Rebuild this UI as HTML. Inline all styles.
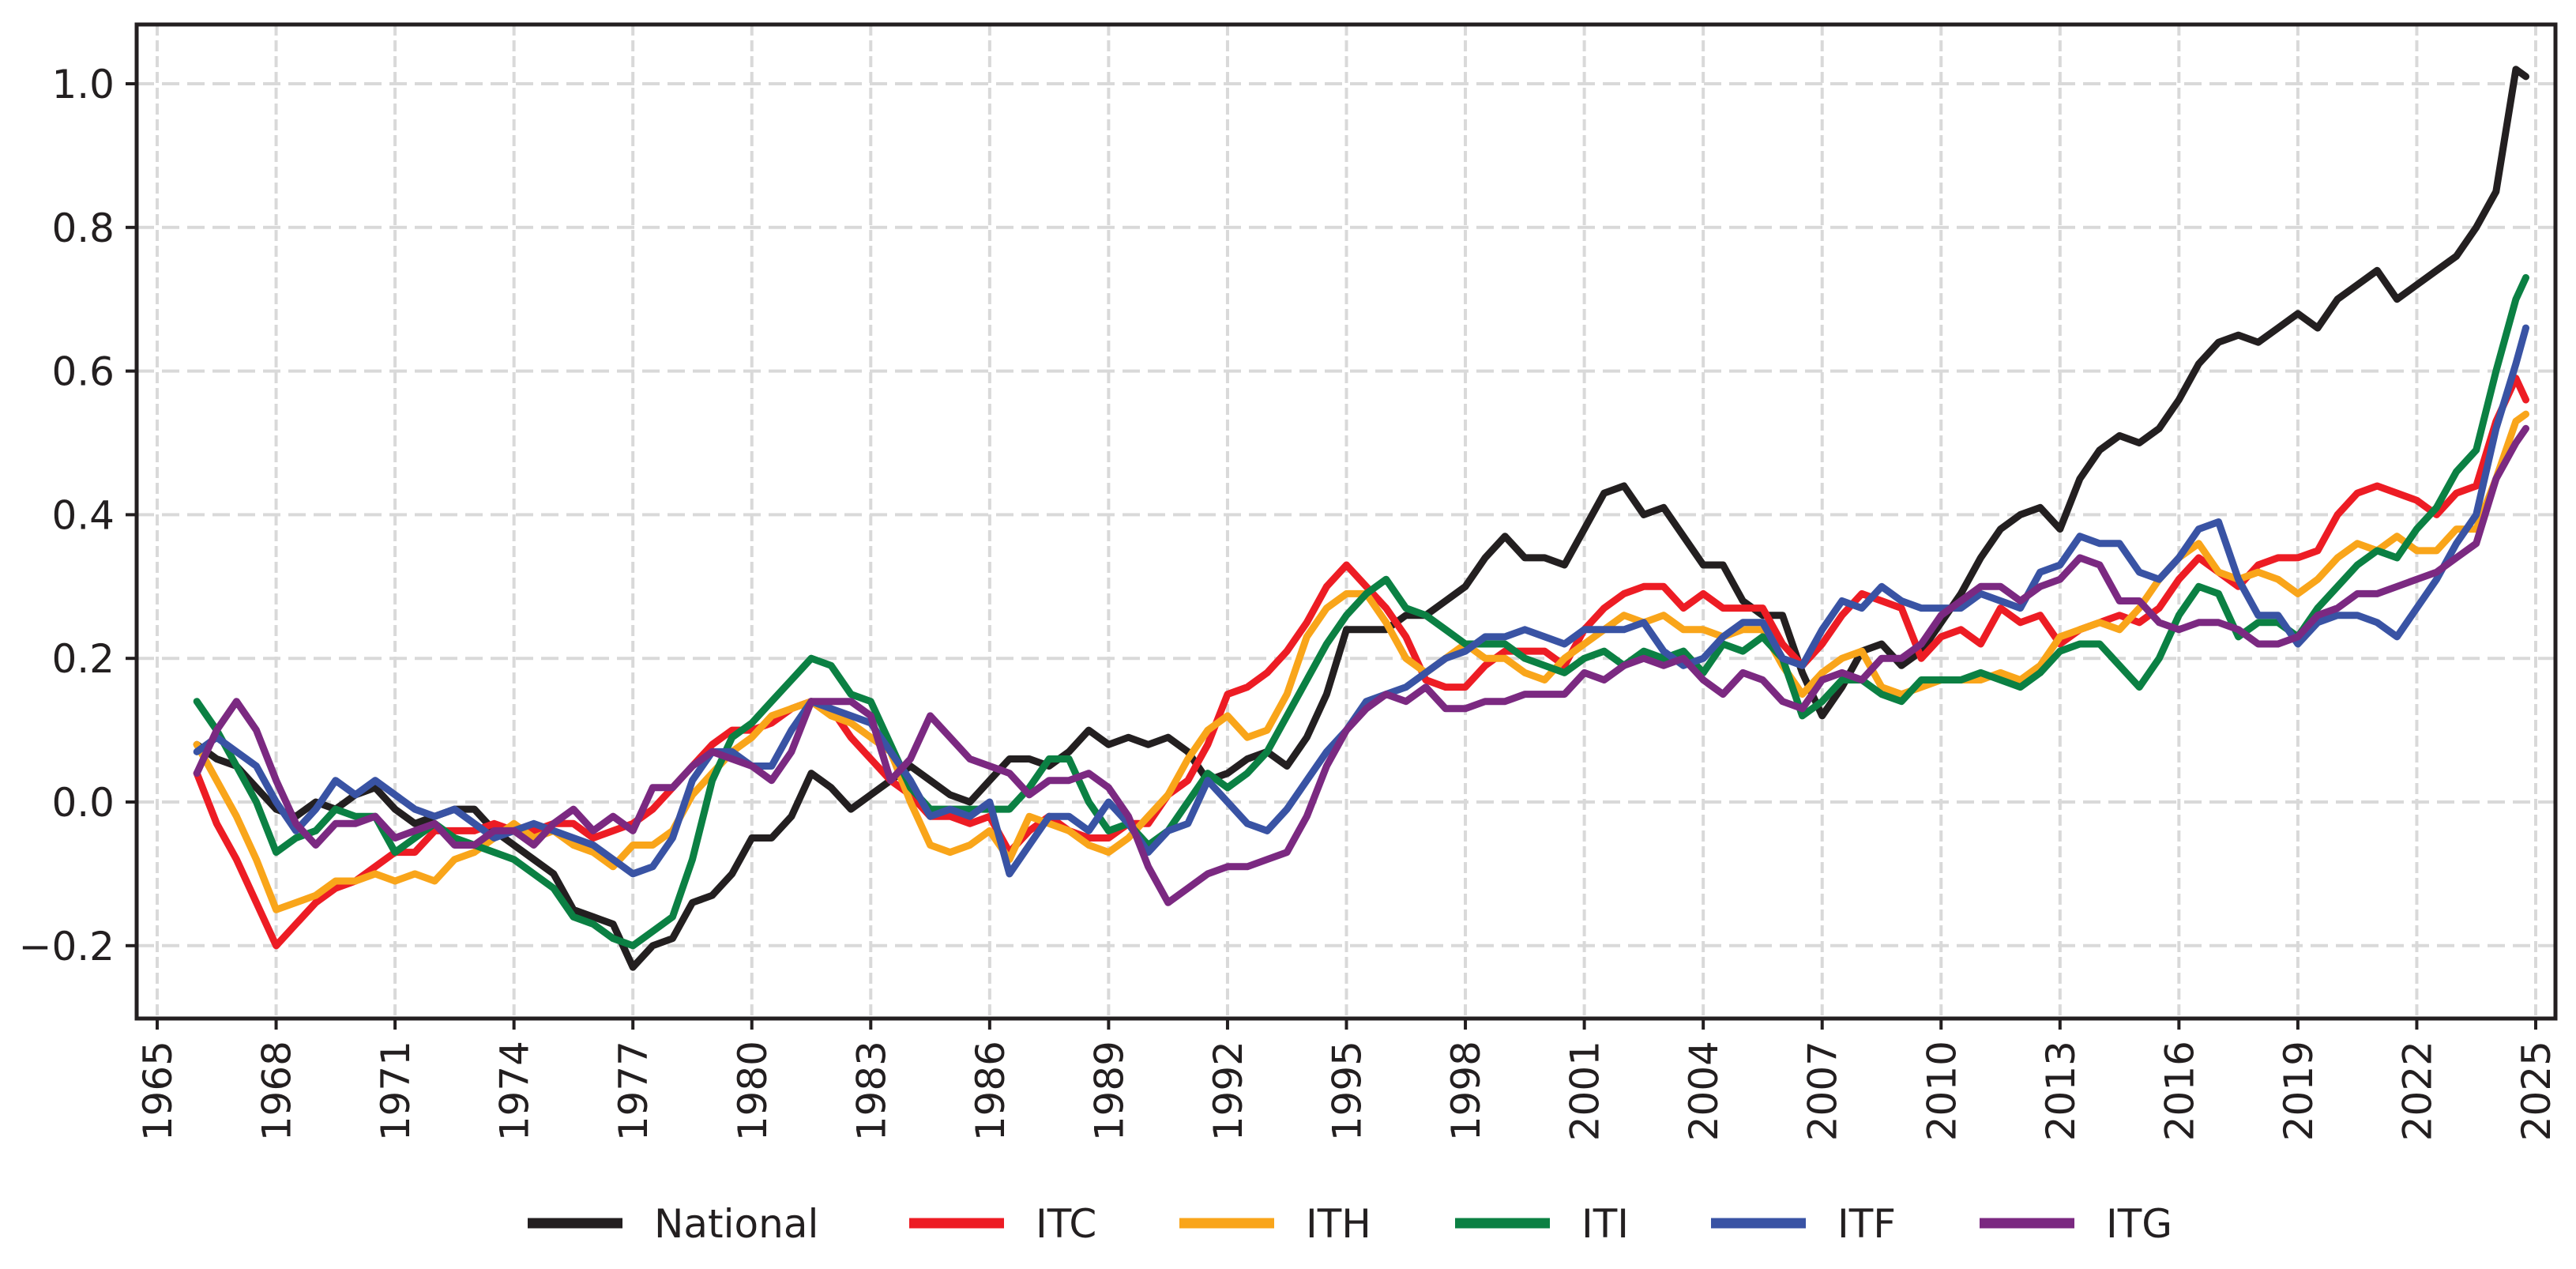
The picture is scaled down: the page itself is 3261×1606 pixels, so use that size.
<!DOCTYPE html>
<html><head><meta charset="utf-8"><style>
html,body{margin:0;padding:0;background:#fff;}
svg{display:block;font-family:"DejaVu Sans","Liberation Sans",sans-serif;}
</style></head><body>
<svg id="chart" width="3261" height="1606" viewBox="0 0 3261 1606" xmlns="http://www.w3.org/2000/svg">
<rect width="3261" height="1606" fill="#fff"/>
<g id="grid"></g>
<g id="series"></g>
<rect x="173" y="31" width="3062" height="1258" fill="none" stroke="#231f20" stroke-width="5"/>
<g id="axes"></g>
<g id="legend"></g>
</svg>
<script>
const seriesNames = ["National","ITC","ITH","ITI","ITF","ITG"];
const seriesColors = ["#231f20","#ed1c24","#f9a51a","#0b8043","#3953a4","#7b2981"];
const xTicks = [1965,1968,1971,1974,1977,1980,1983,1986,1989,1992,1995,1998,2001,2004,2007,2010,2013,2016,2019,2022,2025];
const yTicks = [-0.2,0.0,0.2,0.4,0.6,0.8,1.0];
const yTickLabels = ["\u22120.2","0.0","0.2","0.4","0.6","0.8","1.0"];
const startYear = 1966, stepYears = 0.5, lastYear = 2024.75;
const national = [0.08,0.06,0.05,0.02,-0.01,-0.02,0.0,-0.01,0.01,0.02,-0.01,-0.03,-0.02,-0.01,-0.01,-0.04,-0.06,-0.08,-0.1,-0.15,-0.16,-0.17,-0.23,-0.2,-0.19,-0.14,-0.13,-0.1,-0.05,-0.05,-0.02,0.04,0.02,-0.01,0.01,0.03,0.05,0.03,0.01,0.0,0.03,0.06,0.06,0.05,0.07,0.1,0.08,0.09,0.08,0.09,0.07,0.03,0.04,0.06,0.07,0.05,0.09,0.15,0.24,0.24,0.24,0.26,0.26,0.28,0.3,0.34,0.37,0.34,0.34,0.33,0.38,0.43,0.44,0.4,0.41,0.37,0.33,0.33,0.28,0.26,0.26,0.18,0.12,0.16,0.21,0.22,0.19,0.21,0.25,0.29,0.34,0.38,0.4,0.41,0.38,0.45,0.49,0.51,0.5,0.52,0.56,0.61,0.64,0.65,0.64,0.66,0.68,0.66,0.7,0.72,0.74,0.7,0.72,0.74,0.76,0.8,0.85,1.02,1.01];
const itc = [0.04,-0.03,-0.08,-0.14,-0.2,-0.17,-0.14,-0.12,-0.11,-0.09,-0.07,-0.07,-0.04,-0.04,-0.04,-0.03,-0.04,-0.04,-0.03,-0.03,-0.05,-0.04,-0.03,-0.01,0.02,0.05,0.08,0.1,0.1,0.11,0.13,0.14,0.13,0.09,0.06,0.03,0.01,-0.02,-0.02,-0.03,-0.02,-0.07,-0.04,-0.02,-0.04,-0.05,-0.05,-0.03,-0.03,0.01,0.03,0.08,0.15,0.16,0.18,0.21,0.25,0.3,0.33,0.3,0.27,0.23,0.17,0.16,0.16,0.19,0.21,0.21,0.21,0.19,0.24,0.27,0.29,0.3,0.3,0.27,0.29,0.27,0.27,0.27,0.22,0.19,0.22,0.26,0.29,0.28,0.27,0.2,0.23,0.24,0.22,0.27,0.25,0.26,0.22,0.24,0.25,0.26,0.25,0.27,0.31,0.34,0.32,0.3,0.33,0.34,0.34,0.35,0.4,0.43,0.44,0.43,0.42,0.4,0.43,0.44,0.53,0.59,0.56];
const ith = [0.08,0.03,-0.02,-0.08,-0.15,-0.14,-0.13,-0.11,-0.11,-0.1,-0.11,-0.1,-0.11,-0.08,-0.07,-0.05,-0.03,-0.05,-0.04,-0.06,-0.07,-0.09,-0.06,-0.06,-0.04,0.01,0.04,0.07,0.09,0.12,0.13,0.14,0.12,0.11,0.09,0.07,0.0,-0.06,-0.07,-0.06,-0.04,-0.08,-0.02,-0.03,-0.04,-0.06,-0.07,-0.05,-0.02,0.01,0.06,0.1,0.12,0.09,0.1,0.15,0.23,0.27,0.29,0.29,0.25,0.2,0.18,0.2,0.22,0.2,0.2,0.18,0.17,0.2,0.22,0.24,0.26,0.25,0.26,0.24,0.24,0.23,0.24,0.24,0.19,0.15,0.18,0.2,0.21,0.16,0.15,0.16,0.17,0.17,0.17,0.18,0.17,0.19,0.23,0.24,0.25,0.24,0.27,0.31,0.34,0.36,0.32,0.31,0.32,0.31,0.29,0.31,0.34,0.36,0.35,0.37,0.35,0.35,0.38,0.38,0.45,0.53,0.54];
const iti = [0.14,0.1,0.05,0.0,-0.07,-0.05,-0.04,-0.01,-0.02,-0.02,-0.07,-0.05,-0.03,-0.05,-0.06,-0.07,-0.08,-0.1,-0.12,-0.16,-0.17,-0.19,-0.2,-0.18,-0.16,-0.08,0.03,0.09,0.11,0.14,0.17,0.2,0.19,0.15,0.14,0.08,0.02,-0.01,-0.01,-0.01,-0.01,-0.01,0.02,0.06,0.06,0.0,-0.04,-0.03,-0.06,-0.04,0.0,0.04,0.02,0.04,0.07,0.12,0.17,0.22,0.26,0.29,0.31,0.27,0.26,0.24,0.22,0.22,0.22,0.2,0.19,0.18,0.2,0.21,0.19,0.21,0.2,0.21,0.18,0.22,0.21,0.23,0.2,0.12,0.14,0.17,0.17,0.15,0.14,0.17,0.17,0.17,0.18,0.17,0.16,0.18,0.21,0.22,0.22,0.19,0.16,0.2,0.26,0.3,0.29,0.23,0.25,0.25,0.23,0.27,0.3,0.33,0.35,0.34,0.38,0.41,0.46,0.49,0.6,0.7,0.73];
const itf = [0.07,0.09,0.07,0.05,0.0,-0.04,-0.01,0.03,0.01,0.03,0.01,-0.01,-0.02,-0.01,-0.03,-0.05,-0.04,-0.03,-0.04,-0.05,-0.06,-0.08,-0.1,-0.09,-0.05,0.03,0.07,0.07,0.05,0.05,0.1,0.14,0.13,0.12,0.11,0.07,0.03,-0.02,-0.01,-0.02,0.0,-0.1,-0.06,-0.02,-0.02,-0.04,0.0,-0.03,-0.07,-0.04,-0.03,0.03,0.0,-0.03,-0.04,-0.01,0.03,0.07,0.1,0.14,0.15,0.16,0.18,0.2,0.21,0.23,0.23,0.24,0.23,0.22,0.24,0.24,0.24,0.25,0.21,0.19,0.2,0.23,0.25,0.25,0.2,0.19,0.24,0.28,0.27,0.3,0.28,0.27,0.27,0.27,0.29,0.28,0.27,0.32,0.33,0.37,0.36,0.36,0.32,0.31,0.34,0.38,0.39,0.31,0.26,0.26,0.22,0.25,0.26,0.26,0.25,0.23,0.27,0.31,0.36,0.4,0.52,0.61,0.66];
const itg = [0.04,0.1,0.14,0.1,0.03,-0.03,-0.06,-0.03,-0.03,-0.02,-0.05,-0.04,-0.03,-0.06,-0.06,-0.04,-0.04,-0.06,-0.03,-0.01,-0.04,-0.02,-0.04,0.02,0.02,0.05,0.07,0.06,0.05,0.03,0.07,0.14,0.14,0.14,0.12,0.03,0.06,0.12,0.09,0.06,0.05,0.04,0.01,0.03,0.03,0.04,0.02,-0.02,-0.09,-0.14,-0.12,-0.1,-0.09,-0.09,-0.08,-0.07,-0.02,0.05,0.1,0.13,0.15,0.14,0.16,0.13,0.13,0.14,0.14,0.15,0.15,0.15,0.18,0.17,0.19,0.2,0.19,0.2,0.17,0.15,0.18,0.17,0.14,0.13,0.17,0.18,0.17,0.2,0.2,0.22,0.26,0.28,0.3,0.3,0.28,0.3,0.31,0.34,0.33,0.28,0.28,0.25,0.24,0.25,0.25,0.24,0.22,0.22,0.23,0.26,0.27,0.29,0.29,0.3,0.31,0.32,0.34,0.36,0.45,0.5,0.52];
const seriesValues = [national,itc,ith,iti,itf,itg];

const NS="http://www.w3.org/2000/svg";
const X0=173,X1=3235,Y0=31,Y1=1289;
function xScale(yr){return 199+(yr-1965)*(3210-199)/60;}
function yScale(v){return 1015-v*909;}
function mk(tag,attrs,parent){const e=document.createElementNS(NS,tag);for(const k in attrs)e.setAttribute(k,attrs[k]);parent.appendChild(e);return e;}
const grid=document.getElementById('grid'),axes=document.getElementById('axes'),sg=document.getElementById('series'),lg=document.getElementById('legend');
xTicks.forEach(t=>{const x=xScale(t);
 const g=mk('line',{x1:x,x2:x,y1:Y0,y2:Y1,stroke:'#d9d9d9','stroke-width':4,'stroke-dasharray':'14,6'},grid);
 
 
 const tk=mk('line',{x1:x,x2:x,y1:Y1,y2:Y1+14,stroke:'#231f20','stroke-width':4},axes);
 
 
 const tx=mk('text',{x:0,y:0,'font-size':50,fill:'#231f20','text-anchor':'end',transform:'translate('+(x+18)+','+(Y1+28)+') rotate(-90)'},axes);
 tx.textContent=t;
 
 
});
yTicks.forEach((t,i)=>{const y=yScale(t);
 const g=mk('line',{x1:X0,x2:X1,y1:y,y2:y,stroke:'#d9d9d9','stroke-width':4,'stroke-dasharray':'22,10'},grid);
 
 
 const tk=mk('line',{x1:X0-14,x2:X0,y1:y,y2:y,stroke:'#231f20','stroke-width':4},axes);
 
 
 const tx=mk('text',{x:145,y:y+18,'font-size':50,fill:'#231f20','text-anchor':'end'},axes);
 tx.textContent=yTickLabels[i];
 
 
});
seriesValues.forEach((vals,s)=>{
 const pts=vals.map((v,i)=>{const yr=(i===vals.length-1)?lastYear:startYear+i*stepYears;return xScale(yr).toFixed(1)+','+yScale(v).toFixed(1);}).join(' ');
 const p=mk('polyline',{points:pts,fill:'none',stroke:seriesColors[s],'stroke-width':9,'stroke-linejoin':'round','stroke-linecap':'round'},sg);
 
 
});
const legX=[668,1151,1493,1842,2166,2506];
seriesNames.forEach((n,s)=>{
 const g=mk('g',{},lg);
 
 
 mk('line',{x1:legX[s],x2:legX[s]+120,y1:1548,y2:1548,stroke:seriesColors[s],'stroke-width':13},g);
 const t=mk('text',{x:legX[s]+160,y:1566,'font-size':50,fill:'#231f20'},g);
 t.textContent=n;
});
</script>
</body></html>
